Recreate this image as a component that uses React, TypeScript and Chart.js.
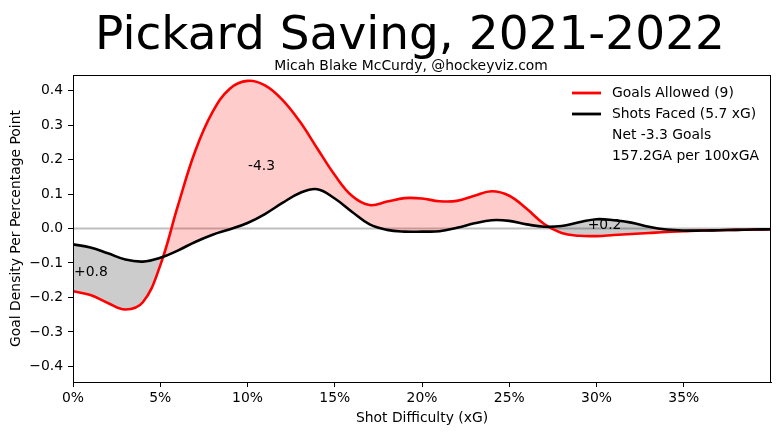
import React, { useEffect, useRef } from "react";
import { Chart, registerables } from "chart.js";

Chart.register(...registerables);

const TITLE = "Pickard Saving, 2021-2022";
const SUBTITLE = "Micah Blake McCurdy, @hockeyviz.com";
const X_LABEL = "Shot Difficulty (xG)";
const Y_LABEL = "Goal Density Per Percentage Point";

// shot difficulty, in percent
const xPct = [
  0, 1, 2, 3, 4, 5, 6, 7, 8, 9, 10, 11, 12, 13, 14, 15, 16, 17, 18, 19, 20,
  21, 22, 23, 24, 25, 26, 27, 28, 29, 30, 31, 32, 33, 34, 35, 36, 37, 38, 39, 40,
];
const goalsAllowed = [
  -0.182, -0.193, -0.216, -0.235, -0.214, -0.107, 0.064, 0.224, 0.338, 0.406, 0.428,
  0.415, 0.373, 0.31, 0.232, 0.155, 0.094, 0.068, 0.078, 0.088, 0.087,
  0.079, 0.08, 0.095, 0.108, 0.095, 0.057, 0.013, -0.013, -0.021, -0.022,
  -0.019, -0.016, -0.013, -0.01, -0.008, -0.006, -0.005, -0.004, -0.003, -0.003,
];
const shotsFaced = [
  -0.046, -0.055, -0.072, -0.09, -0.096, -0.085, -0.064, -0.039, -0.018, -0.002, 0.016,
  0.042, 0.074, 0.103, 0.114, 0.087, 0.048, 0.012, -0.004, -0.009, -0.009,
  -0.008, 0.002, 0.015, 0.024, 0.022, 0.012, 0.005, 0.007, 0.018, 0.027,
  0.024, 0.017, 0.005, -0.003, -0.006, -0.006, -0.005, -0.004, -0.003, -0.002,
];
const baselineX = [0, 40];
const baselineY = [0, 0];

const X_TICKS = [0, 5, 10, 15, 20, 25, 30, 35];
const Y_TICKS = [-0.4, -0.3, -0.2, -0.1, 0, 0.1, 0.2, 0.3, 0.4];

const LEGEND_LINES = ["Goals Allowed (9)", "Shots Faced (5.7 xG)"];
const LEGEND_NOTES = ["Net -3.3 Goals", "157.2GA per 100xGA"];

const AREA_LABELS = ["-4.3", "+0.8", "+0.2"];
const AREA_LABEL_X = [10.8, 1.03, 30.46];
const AREA_LABEL_Y = [0.18, -0.128, 0.009];

const FONT = "'DejaVu Sans', sans-serif";

const overlay = {
  id: "overlay",
  afterDraw(chart: any) {
    const { ctx, chartArea: a, scales } = chart;
    ctx.save();
    // spines
    ctx.strokeStyle = "#000";
    ctx.lineWidth = 1;
    ctx.strokeRect(a.left + 0.5, a.top + 0.5, a.right - a.left - 1, a.bottom - a.top);

    ctx.fillStyle = "#000";
    ctx.textAlign = "center";
    ctx.textBaseline = "alphabetic";
    ctx.font = `47px ${FONT}`;
    ctx.fillText(TITLE, 410, 49);
    ctx.font = `13.9px ${FONT}`;
    ctx.textBaseline = "middle";
    ctx.fillText(SUBTITLE, 411, 66);

    ctx.fillText(X_LABEL, (a.left + a.right) / 2, 418);
    ctx.save();
    ctx.translate(16, (a.top + a.bottom) / 2);
    ctx.rotate(-Math.PI / 2);
    ctx.fillText(Y_LABEL, 0, 0);
    ctx.restore();

    // legend
    const colors = ["#ff0000", "#000000"];
    ctx.textAlign = "left";
    LEGEND_LINES.forEach((t, i) => {
      const y = 93 + i * 21;
      ctx.strokeStyle = colors[i];
      ctx.lineWidth = 2.8;
      ctx.beginPath();
      ctx.moveTo(572, y);
      ctx.lineTo(601, y);
      ctx.stroke();
      ctx.fillText(t, 612, y);
    });
    LEGEND_NOTES.forEach((t, i) => {
      ctx.fillText(t, 612, 135 + i * 21);
    });

    // area labels
    ctx.textAlign = "center";
    AREA_LABELS.forEach((t, i) => {
      const px = scales.x.getPixelForValue(AREA_LABEL_X[i]);
      const py = scales.y.getPixelForValue(AREA_LABEL_Y[i]);
      ctx.fillText(t, px, py);
    });
    ctx.restore();
  },
};

export default function App() {
  const ref = useRef<HTMLCanvasElement | null>(null);
  useEffect(() => {
    if (!ref.current) return;
    const chart = new Chart(ref.current, {
      type: "line",
      data: {
        datasets: [
          {
            label: LEGEND_LINES[0],
            data: xPct.map((x, i) => ({ x, y: goalsAllowed[i] })),
            borderColor: "#ff0000",
            borderWidth: 2.6,
            pointRadius: 0,
            tension: 0.4,
            fill: { target: 1, above: "rgba(255,0,0,0.2)", below: "rgba(0,0,0,0.2)" },
            order: 1,
          },
          {
            label: LEGEND_LINES[1],
            data: xPct.map((x, i) => ({ x, y: shotsFaced[i] })),
            borderColor: "#000000",
            borderWidth: 2.6,
            pointRadius: 0,
            tension: 0.4,
            fill: false,
            order: 0,
          },
          {
            label: "zero",
            data: baselineX.map((x, i) => ({ x, y: baselineY[i] })),
            borderColor: "rgba(0,0,0,0.25)",
            borderWidth: 1.8,
            pointRadius: 0,
            fill: false,
            order: 2,
          },
        ],
      },
      options: {
        animation: false,
        responsive: false,
        events: [],
        layout: { padding: { top: 75, right: 9, left: 0, bottom: 0 } },
        plugins: { legend: { display: false }, title: { display: false }, tooltip: { enabled: false } },
        scales: {
          x: {
            type: "linear",
            min: 0,
            max: 40,
            afterFit: (s: any) => {
              s.height = 54;
            },
            afterBuildTicks: (s: any) => {
              s.ticks = X_TICKS.map((v) => ({ value: v }));
            },
            grid: { drawOnChartArea: false, drawTicks: true, tickLength: 5, tickColor: "#000" },
            border: { display: true, color: "#000" },
            ticks: {
              color: "#000",
              font: { family: FONT, size: 13.9 },
              padding: 3,
              maxRotation: 0,
              callback: (v: any) => `${v}%`,
            },
          },
          y: {
            type: "linear",
            min: -0.445,
            max: 0.445,
            afterFit: (s: any) => {
              s.width = 73;
            },
            afterBuildTicks: (s: any) => {
              s.ticks = Y_TICKS.map((v) => ({ value: v }));
            },
            grid: { drawOnChartArea: false, drawTicks: true, tickLength: 5, tickColor: "#000" },
            border: { display: true, color: "#000" },
            ticks: {
              color: "#000",
              font: { family: FONT, size: 13.9 },
              padding: 5,
              callback: (v: any) => {
                const n = Number(v);
                if (Math.abs(n) < 1e-9) return "0.0";
                return n < 0 ? "\u2212" + Math.abs(n).toFixed(1) : n.toFixed(1);
              },
            },
          },
        },
      },
      plugins: [overlay],
    } as any);
    return () => chart.destroy();
  }, []);
  return (
    <div style={{ position: "fixed", left: 0, top: 0, width: 780, height: 436, background: "#fff" }}>
      <canvas ref={ref} width={780} height={436} style={{ width: 780, height: 436, display: "block" }} />
    </div>
  );
}
